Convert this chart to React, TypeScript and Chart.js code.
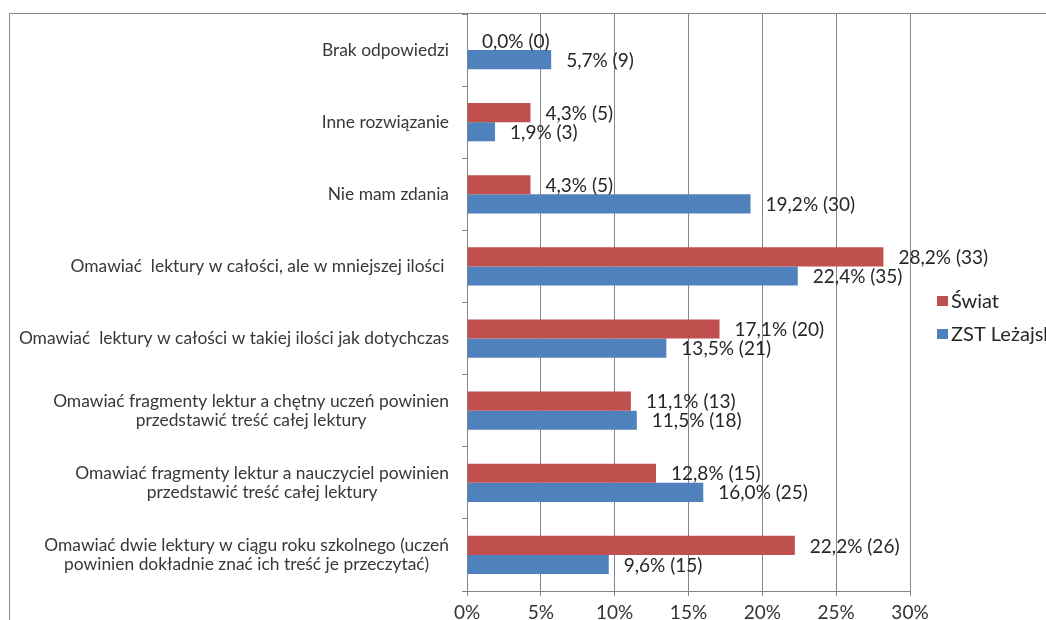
import React, { useEffect, useRef } from "react";
import { Chart, registerables } from "chart.js";

Chart.register(...registerables);

const categories: (string | string[])[] = [
  "Brak odpowiedzi",
  "Inne rozwiązanie",
  "Nie mam zdania",
  "Omawiać  lektury w całości, ale w mniejszej ilości ",
  "Omawiać  lektury w całości w takiej ilości jak dotychczas",
  ["Omawiać fragmenty lektur a chętny uczeń powinien", "przedstawić treść całej lektury"],
  ["Omawiać fragmenty lektur a nauczyciel powinien", "przedstawić treść całej lektury"],
  ["Omawiać dwie lektury w ciągu roku szkolnego (uczeń", "powinien dokładnie znać ich treść je przeczytać)"],
];
const seriesNames = ["Świat", "ZST Leżajsk"];
const swiatPct = [0.0, 4.3, 4.3, 28.2, 17.1, 11.1, 12.8, 22.2];
const swiatCount = [0, 5, 5, 33, 20, 13, 15, 26];
const zstPct = [5.7, 1.9, 19.2, 22.4, 13.5, 11.5, 16.0, 9.6];
const zstCount = [9, 3, 30, 35, 21, 18, 25, 15];
const xMin = 0;
const xMax = 30;
const xStep = 5;

const RED = "#C0504D";
const BLUE = "#4F81BD";
const GRID = "#868686";
const FONT = "Lato";

const counts = [swiatCount, zstCount];

const fmt = (v: number, n: number) => v.toFixed(1).replace(".", ",") + "% (" + n + ")";

export default function App() {
  const ref = useRef<HTMLCanvasElement | null>(null);

  useEffect(() => {
    const canvas = ref.current;
    if (!canvas) return;

    const framePlugin = {
      id: "frame",
      beforeDraw(chart: any) {
        const ctx = chart.ctx;
        ctx.save();
        ctx.fillStyle = "#ffffff";
        ctx.fillRect(0, 0, chart.width, chart.height);
        ctx.strokeStyle = GRID;
        ctx.lineWidth = 1;
        ctx.beginPath();
        ctx.moveTo(9.5, chart.height);
        ctx.lineTo(9.5, 13.5);
        ctx.lineTo(chart.width, 13.5);
        ctx.stroke();
        ctx.restore();
      },
    };

    const labelsPlugin = {
      id: "customLabels",
      afterDatasetsDraw(chart: any) {
        const ctx = chart.ctx;
        const yScale = chart.scales.y;
        const area = chart.chartArea;
        ctx.save();
        // category labels
        ctx.font = `17.4px ${FONT}`;
        ctx.fillStyle = "#383838";
        ctx.textBaseline = "middle";
        ctx.textAlign = "center";
        const lh = 19;
        categories.forEach((c, i) => {
          const lines = Array.isArray(c) ? c : [c];
          const widths = lines.map((l) => ctx.measureText(l).width);
          const blockW = Math.max(...widths);
          const right = area.left - 18;
          const cx = right - blockW / 2;
          const yc = yScale.getPixelForValue(i);
          lines.forEach((l, k) => {
            ctx.fillText(l, cx, yc - ((lines.length - 1) * lh) / 2 + k * lh);
          });
        });
        // data labels
        ctx.font = `19px ${FONT}`;
        ctx.fillStyle = "#262626";
        ctx.textAlign = "left";
        chart.data.datasets.forEach((ds: any, d: number) => {
          const meta = chart.getDatasetMeta(d);
          meta.data.forEach((el: any, i: number) => {
            ctx.fillText(fmt(ds.data[i], counts[d][i]), el.x + 15, el.y + 1);
          });
        });
        // legend
        ctx.font = `20px ${FONT}`;
        const legendY = [301, 334];
        chart.data.datasets.forEach((ds: any, d: number) => {
          ctx.fillStyle = ds.backgroundColor;
          ctx.fillRect(937, legendY[d] - 5, 11, 10);
          ctx.fillStyle = "#262626";
          ctx.fillText(ds.label, 951, legendY[d] + 1);
        });
        ctx.restore();
      },
    };

    const chart = new Chart(canvas, {
      type: "bar",
      data: {
        labels: categories.map((c) => (Array.isArray(c) ? c.join(" ") : c)),
        datasets: [
          { label: seriesNames[0], data: swiatPct, backgroundColor: RED, borderWidth: 0 },
          { label: seriesNames[1], data: zstPct, backgroundColor: BLUE, borderWidth: 0 },
        ],
      },
      options: {
        indexAxis: "y",
        responsive: false,
        animation: false,
        devicePixelRatio: 1,
        layout: { padding: { left: 0, top: 14, right: 136, bottom: 0 } },
        datasets: { bar: { categoryPercentage: 0.53, barPercentage: 1.0 } },
        plugins: {
          legend: { display: false },
          tooltip: { enabled: false },
          title: { display: false },
        },
        scales: {
          y: {
            type: "category",
            ticks: { display: false },
            grid: {
              offset: true,
              drawOnChartArea: false,
              drawTicks: true,
              tickLength: 5,
              color: GRID,
            },
            border: { display: true, color: GRID },
            afterFit(scale: any) {
              scale.width = 467;
            },
          },
          x: {
            type: "linear",
            min: xMin,
            max: xMax,
            ticks: {
              stepSize: xStep,
              callback: (v: any) => v + "%",
              font: { family: FONT, size: 19 },
              color: "#333333",
              padding: 5,
            },
            grid: { color: GRID, tickLength: 5, drawTicks: true },
            border: { display: true, color: GRID },
            afterFit(scale: any) {
              scale.height = 29;
            },
          },
        },
      } as any,
      plugins: [framePlugin, labelsPlugin],
    });

    return () => chart.destroy();
  }, []);

  return (
    <div style={{ position: "absolute", left: 0, top: 0, width: 1046, height: 620, overflow: "hidden", background: "#fff" }}>
      <canvas ref={ref} width={1046} height={620} style={{ width: 1046, height: 620, display: "block" }} />
    </div>
  );
}
